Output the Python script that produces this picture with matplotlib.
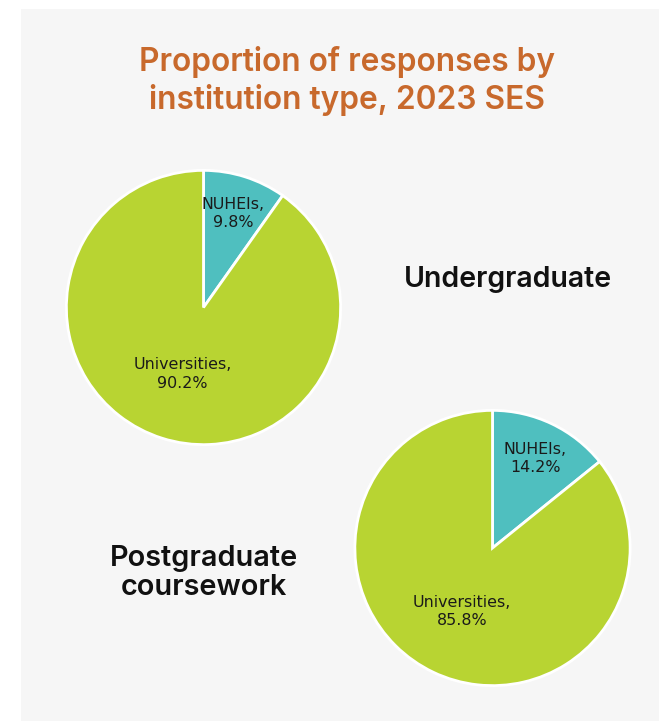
import matplotlib

matplotlib.use("Agg")
import matplotlib.pyplot as plt
import numpy as np
from matplotlib.patches import Rectangle

# Datos
categories = ["NUHEIs", "Universities"]
undergrad = [9.8, 90.2]
postgrad = [14.2, 85.8]
colors = ["#4fbfbf", "#b8d432"]

W, H = 659, 721
fig = plt.figure(figsize=(W / 100, H / 100), dpi=100)
fig.patch.set_facecolor("white")

# panel gris de fondo
fig.patches.append(Rectangle((21 / W, 0), 1 - 21 / W, 1 - 9 / H,
                             transform=fig.transFigure, facecolor="#f6f6f6",
                             edgecolor="none", zorder=-5))

fig.text(347 / W, 1 - 62 / H, "Proportion of responses by",
         ha="center", va="center", fontsize=22.8, fontweight="semibold",
         family="Inter", color="#c8692c")
fig.text(347 / W, 1 - 100 / H, "institution type, 2023 SES",
         ha="center", va="center", fontsize=22.8, fontweight="semibold",
         family="Inter", color="#c8692c")


def draw_pie(cx, cy, r, values):
    ax = fig.add_axes([(cx - r) / W, 1 - (cy + r) / H, 2 * r / W, 2 * r / H])
    ax.pie(values, colors=colors, startangle=90, counterclock=False,
           wedgeprops=dict(edgecolor="white", linewidth=2))
    ax.set_xlim(-1.01, 1.01)
    ax.set_ylim(-1.01, 1.01)
    ax.set_axis_off()
    # etiquetas dentro de cada sector
    cum = np.cumsum([0] + values)
    dists = [0.72, 0.51]
    for i, name in enumerate(categories):
        mid = np.deg2rad(90 - (cum[i] + values[i] / 2) / 100 * 360)
        d = dists[i]
        ax.text(d * np.cos(mid), d * np.sin(mid), f"{name},\n{values[i]}%",
                ha="center", va="center", fontsize=11.4, color="#1a1a1a",
                linespacing=1.3)
    return ax


draw_pie(203.5, 307.5, 138.5, undergrad)
draw_pie(492.5, 548, 139, postgrad)

fig.text(508 / W, 1 - 279 / H, "Undergraduate", ha="center", va="center",
         fontsize=20.5, fontweight="semibold", family="Inter", color="#111111")
fig.text(204 / W, 1 - 573 / H, "Postgraduate\ncoursework", ha="center",
         va="center", fontsize=20.8, fontweight="semibold", family="Inter",
         color="#111111", linespacing=1.12)

fig.savefig("out.png", dpi=100)
